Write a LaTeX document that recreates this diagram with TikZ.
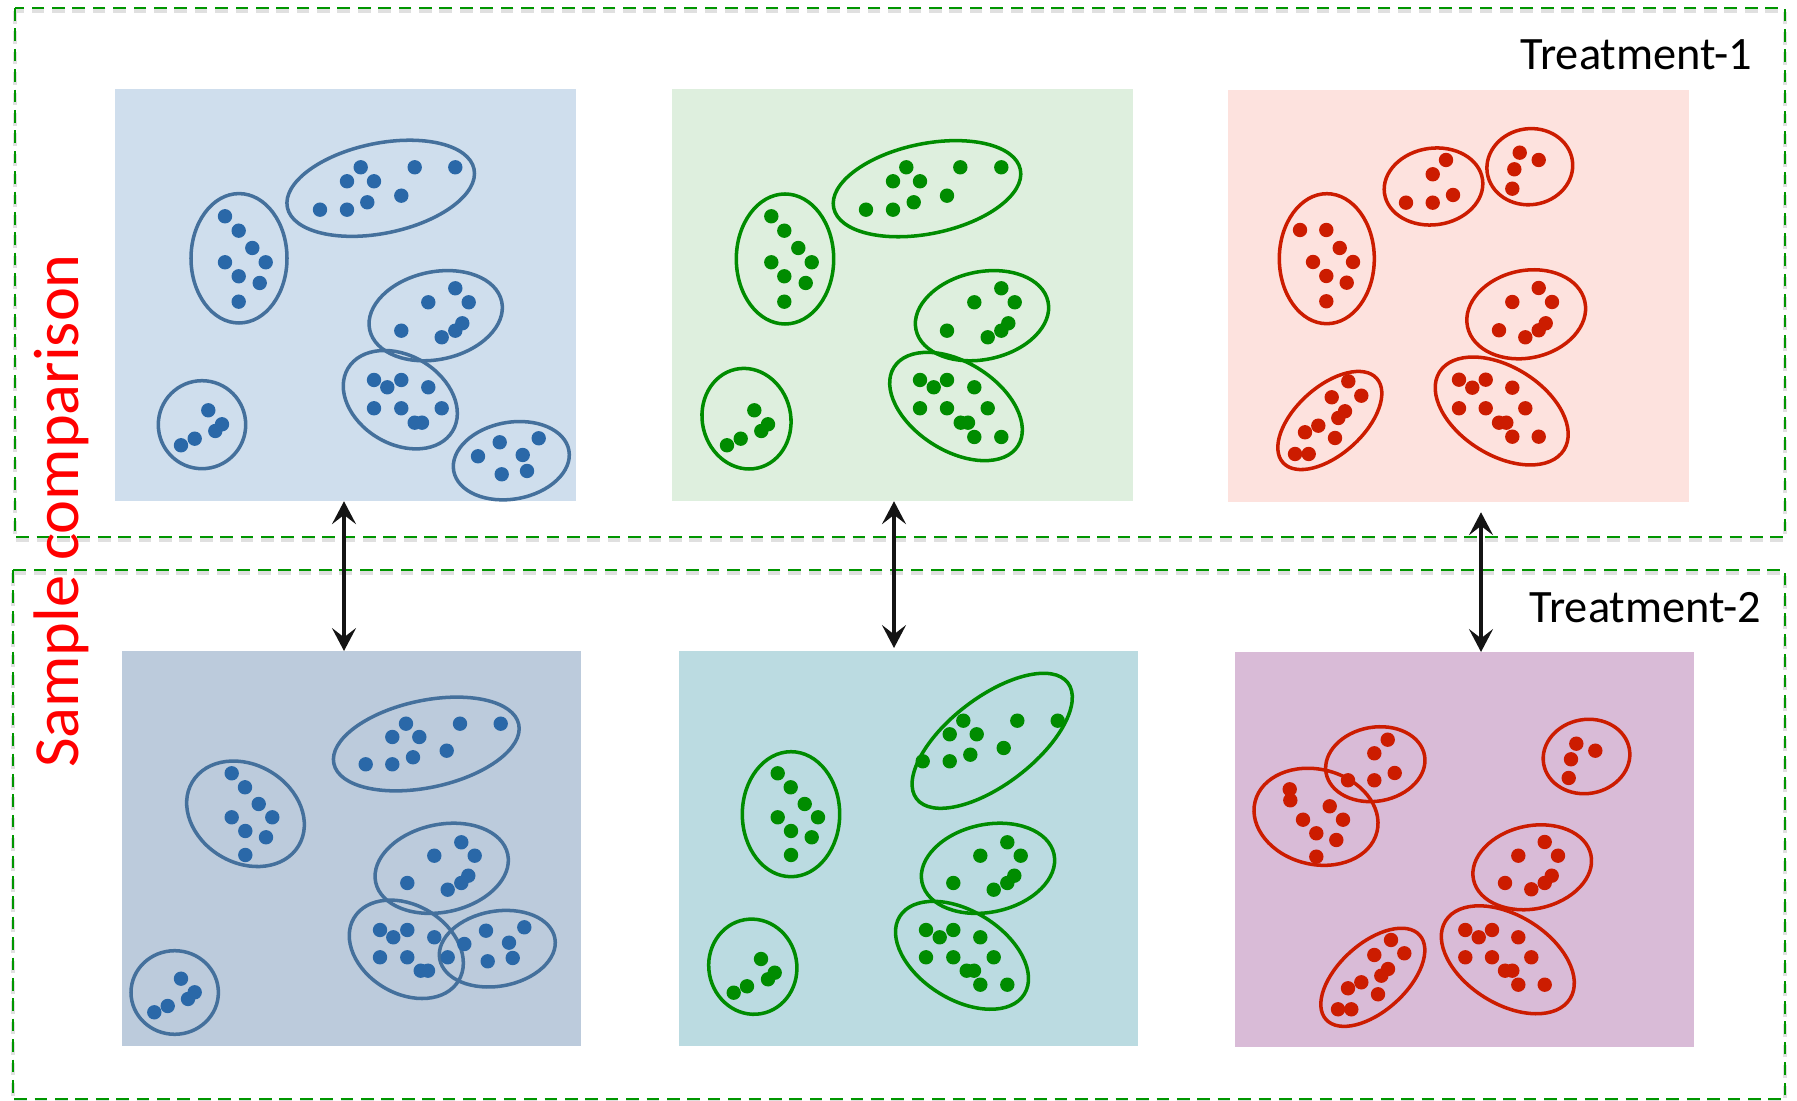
\documentclass[tikz,border=0pt]{standalone}
\usepackage{fontspec}
\setmainfont{Carlito}
\usetikzlibrary{arrows.meta}

\definecolor{bgA}{RGB}{207,222,237}
\definecolor{bgB}{RGB}{222,239,222}
\definecolor{bgC}{RGB}{253,226,222}
\definecolor{bgD}{RGB}{188,203,220}
\definecolor{bgE}{RGB}{187,219,225}
\definecolor{bgF}{RGB}{217,187,215}
\definecolor{dotB}{RGB}{42,104,168}
\definecolor{ringB}{RGB}{68,112,156}
\definecolor{dotG}{RGB}{0,140,0}
\definecolor{dotR}{RGB}{204,28,0}
\definecolor{frameG}{RGB}{0,150,0}
\definecolor{txtR}{RGB}{255,0,0}

% one cluster outline: style, centre x, centre y, x radius, y radius, tilt
\newcommand\ring[6]{\draw[#1,shift={(#2,#3)},rotate=#6] (0,0) ellipse [x radius=#4, y radius=#5];}
% a set of sample points
\newcommand\spots[2]{\foreach \p in {#2}{\fill[#1] \p circle [radius=7.2];}}

\begin{document}
\begin{tikzpicture}[x=0.01cm,y=-0.01cm,
  panel/.style={rectangle, draw=none, inner sep=0pt, outer sep=0pt, anchor=north west},
  groupframe/.style={draw=frameG, line width=0.6pt, dash pattern=on 3.6pt off 2.2pt},
  frameshade/.style={draw=black!12, line width=1.2pt, dash pattern=on 3.6pt off 2.2pt},
  ringblue/.style={draw=ringB, line width=1pt},
  ringgreen/.style={draw=dotG, line width=1pt},
  ringred/.style={draw=dotR, line width=1pt},
  link/.style={draw=black!92, line width=1.3pt, {Stealth[length=6.5pt,width=6.8pt,inset=2.6pt]}-{Stealth[length=6.5pt,width=6.8pt,inset=2.6pt]}},
  lbl/.style={font=\fontsize{13.2}{15}\selectfont, inner sep=0pt, text=black},
  side/.style={font=\fontsize{18.3}{21}\selectfont, inner sep=0pt, text=txtR}]

\useasboundingbox (0,0) rectangle (1797,1101);

% treatment frames
\draw[frameshade] (15,11) rectangle (1785,540);
\draw[frameshade] (13,573) rectangle (1785,1102);
\draw[groupframe] (15,8) rectangle (1785,537);
\draw[groupframe] (13,570) rectangle (1785,1099);

% sample panels
\node[panel, fill=bgA, minimum width=4.61cm, minimum height=4.12cm] (P1) at (115,89) {};
\node[panel, fill=bgB, minimum width=4.61cm, minimum height=4.12cm] (P2) at (672,89) {};
\node[panel, fill=bgC, minimum width=4.61cm, minimum height=4.12cm] (P3) at (1228,90) {};
\node[panel, fill=bgD, minimum width=4.59cm, minimum height=3.95cm] (P4) at (122,651) {};
\node[panel, fill=bgE, minimum width=4.59cm, minimum height=3.95cm] (P5) at (679,651) {};
\node[panel, fill=bgF, minimum width=4.59cm, minimum height=3.95cm] (P6) at (1235,652) {};

% ---- treatment 1, sample 1
\begin{scope}[shift={(115,89)}]
\ring{ringblue}{124}{169.3}{48}{64.7}{0}
\ring{ringblue}{265.7}{99.3}{95.3}{45}{11.6}
\ring{ringblue}{320.7}{226.7}{67.5}{43.8}{12}
\ring{ringblue}{285.3}{310.7}{61}{44.2}{-31}
\ring{ringblue}{87}{335.7}{43.7}{44}{0}
\ring{ringblue}{396.3}{371.7}{58.5}{38.4}{10}
\spots{dotB}{(110,127.3),(123.7,141.7),(137.3,159),(110,173.3),(150.7,173.3),(123.7,187.3),(144.7,194),(123.7,212.7)}
\spots{dotB}{(245.7,78.3),(299.7,78.3),(340.3,78.3),(232,92.3),(259,92.3),(286.3,106.7),(252.3,113.3),(205,120.7),(232,120.7)}
\spots{dotB}{(340.3,199.3),(313.3,213.3),(353.7,213.3),(286.3,241.7),(347.3,234.3),(340.3,241.7),(326.7,248.3)}
\spots{dotB}{(259,291),(286.3,291),(272.3,298.3),(313.3,298.3),(259,319.3),(286.3,319.3),(326.7,319.3),(299.7,333.7),(307,333.7)}
\spots{dotB}{(93.3,321.3),(107,335.3),(100.3,342),(79.7,349.7),(66,356.3)}
\spots{dotB}{(384.7,353.3),(423.7,349.3),(363,367.3),(407.7,366),(386.7,385.3),(412,382)}
\end{scope}

% ---- treatment 1, sample 2
\begin{scope}[shift={(672,89)}]
\ring{ringgreen}{113}{170}{48.7}{65}{0}
\ring{ringgreen}{255}{99.7}{95.3}{45}{11.6}
\ring{ringgreen}{310}{226.7}{67.5}{43.8}{12}
\ring{ringgreen}{284}{317.5}{73.4}{44.1}{-32.4}
\ring{ringgreen}{74.5}{329.7}{44.2}{50.6}{13}
\spots{dotG}{(99.3,127.3),(112.3,141.7),(126.3,159),(99.3,173.3),(139.7,173.3),(112.3,187.3),(133.7,194),(112.3,212.7)}
\spots{dotG}{(234.3,78.3),(288.3,78.3),(329.3,78.3),(221,92.3),(248,92.3),(275,106.7),(241.7,113.3),(194,120.7),(221,120.7)}
\spots{dotG}{(329.3,199.3),(302.3,213.3),(342.7,213.3),(275,241.7),(336.3,234.3),(329.3,241.7),(315.7,248.3)}
\spots{dotG}{(248,291),(275,291),(261.7,298.3),(302.3,298.3),(248,319.3),(275,319.3),(315.7,319.3),(288.7,333.7),(296,333.7),(302.3,348),(329.3,348)}
\spots{dotG}{(82.3,321.3),(96,335.3),(89.3,342),(68.7,349.7),(55,356.3)}
\end{scope}

% ---- treatment 1, sample 3
\begin{scope}[shift={(1228,90)}]
\ring{ringred}{98.8}{168.7}{47.5}{65}{0}
\ring{ringred}{205.5}{96.5}{49.5}{38.3}{8}
\ring{ringred}{301.8}{76.7}{43}{38}{8}
\ring{ringred}{298.2}{224.3}{60}{43.7}{12}
\ring{ringred}{273.7}{321}{73.4}{44.1}{-32}
\ring{ringred}{101.8}{330.5}{63}{33.8}{42}
\spots{dotR}{(72,140),(98.3,140),(111.7,158),(85,172),(125,172),(98.3,186),(118.7,192.7),(98.3,211.3)}
\spots{dotR}{(218,70),(204.7,84.3),(225,105),(178,112.7),(204.7,112.7)}
\spots{dotR}{(291.7,62.7),(310.7,70),(286.3,79.3),(284.3,98.7)}
\spots{dotR}{(310.7,198),(284.3,212),(324,212),(271,240.3),(317.7,233.3),(310.7,240.3),(297.3,247.3)}
\spots{dotR}{(231,289.7),(257.7,289.7),(244.3,297.7),(284.3,297.7),(231,318.3),(257.7,318.3),(297.3,318.3),(271,332.7),(278.3,332.7),(284.3,346.7),(310.7,346.7)}
\spots{dotR}{(120.3,291.3),(103.7,307.3),(133.3,305.7),(117,321.3),(110.3,328),(90.3,335.7),(77,342.3),(107,348),(67,364),(80.7,364)}
\end{scope}

% ---- treatment 2, sample 1
\begin{scope}[shift={(122,651)}]
\ring{ringblue}{123.5}{162.8}{62}{49}{-31}
\ring{ringblue}{304.3}{93}{94.5}{43.5}{12}
\ring{ringblue}{319.7}{217.3}{67.5}{43.8}{12}
\ring{ringblue}{284.3}{298.3}{61}{44.2}{-31}
\ring{ringblue}{375.3}{297.7}{58.5}{37.5}{10}
\ring{ringblue}{52.7}{341.5}{43.7}{41.8}{0}
\spots{dotB}{(109.7,122.3),(123,136.3),(136.7,153),(109.7,166.3),(150.3,166.3),(123.3,180),(144,186.3),(123.3,204)}
\spots{dotB}{(284,72.7),(338,72.7),(378.7,72.7),(270.3,86),(297.3,86),(324.7,99.7),(291,106.3),(243.7,113.3),(270.3,113.3)}
\spots{dotB}{(339.3,191.3),(312.3,204.7),(352.7,204.7),(285.3,232),(346.3,224.7),(339.3,232),(325.7,238.7)}
\spots{dotB}{(258,279),(285.3,279),(271.3,286.3),(312.3,286.3),(258,306.3),(285.3,306.3),(325.7,306.3),(298.7,319.7),(306,319.7)}
\spots{dotB}{(342.3,293),(364,279.7),(402.3,276.3),(387,291.7),(365.7,310.3),(390.7,307)}
\spots{dotB}{(59,327.7),(72.7,341.3),(66,348),(45.7,355),(32.3,361.3)}
\end{scope}

% ---- treatment 2, sample 2
\begin{scope}[shift={(679,651)}]
\ring{ringgreen}{112}{163.2}{48.7}{62.5}{0}
\ring{ringgreen}{313.2}{89.8}{95.3}{43.5}{37.5}
\ring{ringgreen}{309}{217.3}{67.5}{43.8}{12}
\ring{ringgreen}{283}{304.3}{73.4}{44.1}{-32}
\ring{ringgreen}{73.8}{315.7}{44}{47.7}{10}
\spots{dotG}{(98.7,122.3),(111.7,136.3),(125.7,153),(98.7,166.3),(139,166.3),(112,180),(132.7,186.3),(112,204)}
\spots{dotG}{(284.3,69.7),(338.3,69.7),(378.7,69.7),(270.7,83.3),(297.7,83.3),(324.7,97),(291.3,103.7),(243.7,110.3),(270.7,110.3)}
\spots{dotG}{(328.3,191.3),(301.3,204.7),(341.7,204.7),(274.3,232),(335.3,224.7),(328.3,232),(314.7,238.7)}
\spots{dotG}{(247,279),(274.3,279),(260.7,286.3),(301.3,286.3),(247,306.3),(274.3,306.3),(314.7,306.3),(287.7,319.7),(295,319.7),(301.3,333.7),(328.3,333.7)}
\spots{dotG}{(82,308),(95.7,321.7),(89,328.3),(68,335.3),(54.7,341.7)}
\end{scope}

% ---- treatment 2, sample 3
\begin{scope}[shift={(1235,652)}]
\ring{ringred}{81}{164.8}{62.8}{47.5}{-14}
\ring{ringred}{140.3}{112.2}{50}{37}{10}
\ring{ringred}{351.5}{104.5}{43.5}{37}{10}
\ring{ringred}{297.2}{215.3}{60}{41.5}{12}
\ring{ringred}{272.8}{307.8}{73.4}{44.1}{-32}
\ring{ringred}{137.8}{325.3}{63}{33.8}{42}
\spots{dotR}{(54.7,137.3),(55.3,148.3),(94.7,154.3),(68,167.7),(108,167.7),(81.3,181.3),(101.3,188),(81.3,204.7)}
\spots{dotR}{(152.7,87.7),(139.3,101.3),(159.7,121),(113,128.3),(139.3,128.3)}
\spots{dotR}{(341.3,91.7),(360.3,98.7),(336,107.3),(333.7,126)}
\spots{dotR}{(309.7,190),(283.3,203.7),(323,203.7),(270,231),(316.7,223.7),(309.7,231),(296.3,237.3)}
\spots{dotR}{(230.3,278),(257,278),(243.7,285.3),(283.3,285.3),(230.3,305.3),(257,305.3),(296.3,305.3),(270,318.7),(277.3,318.7),(283.3,332.7),(309.7,332.7)}
\spots{dotR}{(156,288),(139.3,303),(169.3,301.3),(153,317),(146.3,323.7),(126.3,330.3),(113,336.3),(143,342.3),(103,357.3),(116.3,357.3)}
\end{scope}

% comparison arrows between treatments
\coordinate (c1) at (344,0);
\coordinate (c2) at (894,0);
\coordinate (c3) at (1481,0);
\draw[link] (P1.south -| c1) -- (P4.north -| c1);
\draw[link, shorten >=0.03cm] (P2.south -| c2) -- (P5.north -| c2);
\draw[link, shorten <=0.1cm] (P3.south -| c3) -- (P6.north -| c3);

% labels
\node[lbl, anchor=base east] (T1) at (1753,70) {Treatment-1};
\node[lbl, anchor=base east] (T2) at (1762,623) {Treatment-2};
\node[side, rotate=90, anchor=base] (SC) at (78,511) {Sample comparison};
\end{tikzpicture}
\end{document}
